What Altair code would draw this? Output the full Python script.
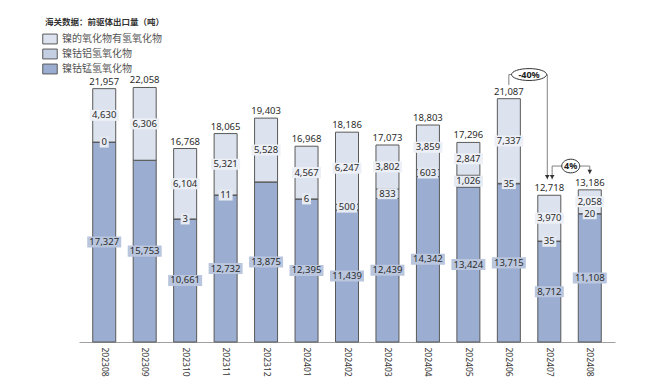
import json
import altair as alt
import pandas as pd

# ---------------- data ----------------
months = ["202308", "202309", "202310", "202311", "202312", "202401", "202402",
          "202403", "202404", "202405", "202406", "202407", "202408"]
series = ["镍的氧化物有氢氧化物", "镍钴铝氢氧化物", "镍钴锰氢氧化物"]
ncm = [17327, 15753, 10661, 12732, 13875, 12395, 11439, 12439, 14342, 13424, 13715, 8712, 11108]
nca = [0, 0, 3, 11, 0, 6, 500, 833, 603, 1026, 35, 35, 20]
nca_labels = ["0", "", "3", "11", "", "6", "500", "833", "603", "1,026", "35", "35", "20"]
oxide = [4630, 6306, 6104, 5321, 5528, 4567, 6247, 3802, 3859, 2847, 7337, 3970, 2058]
totals = [21957, 22058, 16768, 18065, 19403, 16968, 18186, 17073, 18803, 17296, 21087, 12718, 13186]
title_text = "海关数据：前驱体出口量（吨）"

# annotation (change brackets)
ann_labels = ["-40%", "4%"]
ann_x = [10.5, 11.53]
ann_y = [23180, 15250]

colors = ["#dce3ee", "#c5cfe3", "#9badd0"]
bg_colors = {"top": "#edf0f6", "mid": "#e6eaf2", "bot": "#b9c6de"}

# ---------------- tables ----------------
seg_rows, lab_rows, tot_rows = [], [], []
for i, m in enumerate(months):
    y0 = 0
    for s, v, kind, lab in [(series[2], ncm[i], "bot", f"{ncm[i]:,}"),
                            (series[1], nca[i], "mid", nca_labels[i]),
                            (series[0], oxide[i], "top", f"{oxide[i]:,}")]:
        y1 = y0 + v
        seg_rows.append({"idx": i, "month": m, "series": s, "y0": y0, "y1": y1})
        if lab:
            lab_rows.append({"idx": i, "mid": (y0 + y1) / 2, "label": lab,
                             "bg": bg_colors[kind], "n": len(lab)})
        y0 = y1
    tot_rows.append({"idx": i, "top": y0, "label": f"{totals[i]:,}"})

seg = pd.DataFrame(seg_rows)
labs = pd.DataFrame(lab_rows)
tots = pd.DataFrame(tot_rows)

# background box shapes (width by label length), drawn with size 1156 -> 34px unit
UNIT = 34.0
box_w = {1: 9, 2: 14, 3: 20, 4: 24, 5: 29, 6: 34}
def box_path(n, h=11.0):
    hh = (h / 2) / (UNIT / 2)
    hw = (box_w[n] / 2) / (UNIT / 2)
    return f"M{-hw:.3f},{-hh:.3f}L{hw:.3f},{-hh:.3f}L{hw:.3f},{hh:.3f}L{-hw:.3f},{hh:.3f}Z"
labs["shape"] = labs["n"].map(box_path)

# bracket lines
rules = pd.DataFrame([
    {"x": 10, "x2": 10, "y": 22270, "y2": ann_y[0]},
    {"x": 10, "x2": 10.95, "y": ann_y[0], "y2": ann_y[0]},
    {"x": 10.95, "x2": 10.95, "y": ann_y[0], "y2": 14100},
    {"x": 11.07, "x2": 11.07, "y": ann_y[1], "y2": 14100},
    {"x": 11.07, "x2": 12, "y": ann_y[1], "y2": ann_y[1]},
    {"x": 12, "x2": 12, "y": ann_y[1], "y2": 14550},
])
arrows = pd.DataFrame([
    {"x": 10.95, "y": 14300},
    {"x": 11.07, "y": 14300},
    {"x": 12, "y": 14750},
])
ells = pd.DataFrame({"x": ann_x, "y": ann_y, "label": ann_labels,
                     "shape": ["M-1,0A1,0.34 0 1,0 1,0A1,0.34 0 1,0 -1,0Z",
                               "M-1,0A1,0.76 0 1,0 1,0A1,0.76 0 1,0 -1,0Z"],
                     "sz": [1225, 324]})

# ---------------- chart ----------------
FONT = "Noto Sans"
xscale = alt.Scale(domain=[-0.5, 12.5], nice=False, zero=False)
yscale = alt.Scale(domain=[0, 26000], nice=False)
label_expr = json.dumps(months) + "[datum.value]"

legend_path = "M-1,-0.68L1,-0.68L1,0.68L-1,0.68Z"

bars = alt.Chart(seg).mark_bar(size=23, stroke="#595959", strokeWidth=1).encode(
    x=alt.X("idx:Q", scale=xscale,
            axis=alt.Axis(values=list(range(13)), labelExpr=label_expr, grid=False,
                          ticks=False, domainColor="#a0a0a0", labelAngle=90,
                          labelPadding=5, labelFontSize=8.5, labelFont=FONT,
                          labelColor="#333", title=None)),
    y=alt.Y("y0:Q", scale=yscale, axis=None),
    y2="y1:Q",
    color=alt.Color("series:N", scale=alt.Scale(domain=series, range=colors),
                    legend=alt.Legend(orient="none", legendX=-37, legendY=-11,
                                      direction="vertical", title=None,
                                      symbolType=legend_path, symbolSize=210,
                                      symbolStrokeColor="#595959", symbolStrokeWidth=1,
                                      symbolOpacity=1, labelFontSize=10,
                                      labelFont="Noto Sans CJK SC", labelColor="#555",
                                      rowPadding=0, labelOffset=4)),
)

bgs = alt.Chart(labs).mark_point(filled=True, size=UNIT * UNIT, strokeWidth=0, opacity=1).encode(
    x=alt.X("idx:Q", scale=xscale),
    y=alt.Y("mid:Q", scale=yscale),
    shape=alt.Shape("shape:N", scale=None),
    fill=alt.Fill("bg:N", scale=None),
)

texts = alt.Chart(labs).mark_text(font=FONT, fontSize=9.5, color="#2b2b2b").encode(
    x=alt.X("idx:Q", scale=xscale),
    y=alt.Y("mid:Q", scale=yscale),
    text="label:N",
)

tot_text = alt.Chart(tots).mark_text(font=FONT, fontSize=9.5, color="#2b2b2b",
                                     baseline="bottom", dy=-2).encode(
    x=alt.X("idx:Q", scale=xscale),
    y=alt.Y("top:Q", scale=yscale),
    text="label:N",
)

rule_layer = alt.Chart(rules).mark_rule(color="#808080", strokeWidth=1).encode(
    x=alt.X("x:Q", scale=xscale), x2="x2:Q",
    y=alt.Y("y:Q", scale=yscale), y2="y2:Q",
)

arrow_layer = alt.Chart(arrows).mark_point(shape="triangle-down", filled=True, size=22,
                                           color="#333", opacity=1).encode(
    x=alt.X("x:Q", scale=xscale),
    y=alt.Y("y:Q", scale=yscale),
)

ell_layer = alt.Chart(ells).mark_point(filled=False, fill="white", fillOpacity=1,
                                       stroke="#333", strokeWidth=1, opacity=1).encode(
    x=alt.X("x:Q", scale=xscale),
    y=alt.Y("y:Q", scale=yscale),
    shape=alt.Shape("shape:N", scale=None),
    size=alt.Size("sz:Q", scale=None),
)

ell_text = alt.Chart(ells).mark_text(font=FONT, fontSize=9, fontWeight="bold",
                                     color="#222").encode(
    x=alt.X("x:Q", scale=xscale),
    y=alt.Y("y:Q", scale=yscale),
    text="label:N",
)

title_layer = alt.Chart(pd.DataFrame({"t": [title_text]})).mark_text(
    align="left", baseline="middle", font="Noto Sans CJK SC", fontSize=8.5,
    fontWeight="bold", color="#333").encode(
    x=alt.value(-34), y=alt.value(-20), text="t:N")

chart = alt.layer(bars, bgs, texts, tot_text, rule_layer, arrow_layer, ell_layer,
                  ell_text, title_layer).properties(
    width=536, height=300, autosize="none",
    padding={"left": 71, "top": 34, "right": 20, "bottom": 40},
).configure_view(stroke=None)

chart.save("out.html", embed_options={"renderer": "svg", "actions": False})
